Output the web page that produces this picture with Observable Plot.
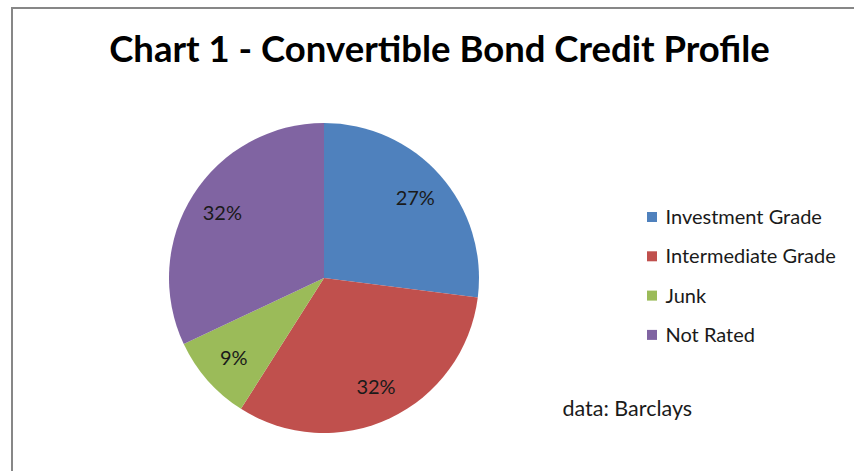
<!DOCTYPE html>
<html>
<head>
<meta charset="utf-8">
<script src="https://cdn.jsdelivr.net/npm/d3@7"></script>
<script src="https://cdn.jsdelivr.net/npm/@observablehq/plot@0.6"></script>
<style>
  html, body { margin: 0; padding: 0; background: #fff; }
  #chart svg { display: block; }
</style>
</head>
<body>
<div id="chart"></div>
<script>
// ---- data ----
const categories = ["Investment Grade", "Intermediate Grade", "Junk", "Not Rated"];
const shares = [27, 32, 9, 32];
const colors = ["#4F81BD", "#C0504D", "#9BBB59", "#8064A2"];
const titleText = "Chart 1 - Convertible Bond Credit Profile";
const sourceText = "data: Barclays";

// ---- layout (styles) ----
const W = 854, H = 471;
const CX = 324, CY = 278, R = 155, LABEL_R = 121;
const FONT = "Lato, 'Open Sans', sans-serif";

const rows = categories.map((c, i) => ({category: c, value: shares[i], order: i}));
const arcs = d3.pie().sort(null).value(d => d.value)(rows);
const mid = a => (a.startAngle + a.endAngle) / 2;

const pieMark = (index, scales, values, dimensions, context) => {
  const g = d3.create("svg:g")
    .attr("transform", `translate(${scales.x(CX)},${scales.y(CY)})`);
  const arcGen = d3.arc().innerRadius(0).outerRadius(R);
  g.selectAll("path")
    .data(arcs)
    .join("path")
    .attr("d", arcGen)
    .attr("fill", a => scales.color(a.data.category));
  return g.node();
};

const chart = Plot.plot({
  width: W,
  height: H,
  margin: 0,
  x: {domain: [0, W], range: [0, W], axis: null},
  y: {domain: [0, H], range: [0, H], axis: null},
  color: {domain: categories, range: colors},
  style: {fontFamily: FONT, background: "#fff"},
  marks: [
    // chart area border
    Plot.rect([0], {x1: 12, y1: 8, x2: W + 20, y2: H + 20, fill: "none", stroke: "#878787", strokeWidth: 2}),
    pieMark,
    // slice labels
    Plot.text(arcs, {
      x: a => CX + Math.sin(mid(a)) * LABEL_R,
      y: a => CY - Math.cos(mid(a)) * LABEL_R,
      text: a => `${a.data.value}%`,
      fontSize: 20,
      fill: "#1a1a1a"
    }),
    // legend swatches
    Plot.rect(rows, {
      x1: 647, x2: 657,
      y1: d => 212 + d.order * 39.3,
      y2: d => 222 + d.order * 39.3,
      fill: d => d.category
    }),
    Plot.text(rows, {
      x: 665,
      y: d => 217 + d.order * 39.3,
      text: d => d.category,
      textAnchor: "start",
      fontSize: 20,
      fill: "#1a1a1a"
    }),
    // source note
    Plot.text([sourceText], {x: 562, y: 409, text: d => d, textAnchor: "start", fontSize: 21.5, fill: "#1a1a1a"}),
    // title
    Plot.text([titleText], {x: 439, y: 50, text: d => d, fontSize: 36.5, fontWeight: "bold", fill: "#000"})
  ]
});

document.getElementById("chart").append(chart);
</script>
</body>
</html>
